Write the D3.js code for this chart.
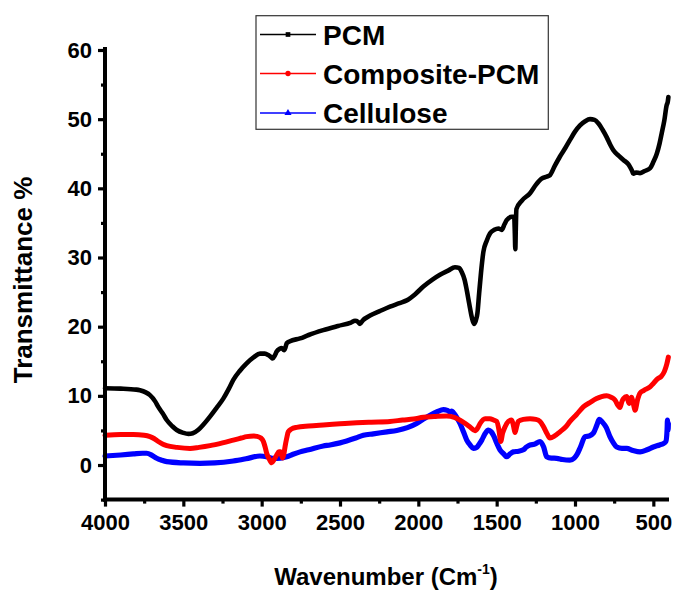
<!DOCTYPE html>
<html><head><meta charset="utf-8">
<script src="https://cdn.jsdelivr.net/npm/d3@7/dist/d3.min.js"></script>
<style>body{margin:0;background:#fff}svg{display:block}text{font-family:"Liberation Sans",Arial,sans-serif;font-weight:bold}</style>
</head><body><svg id="c" width="673" height="590"></svg>
<script>
const seriesNames = ["PCM", "Composite-PCM", "Cellulose"];
const seriesColors = ["#000000", "#ff0000", "#0000ff"];
const xTicks = [4000, 3500, 3000, 2500, 2000, 1500, 1000, 500];
const yTicks = [0, 10, 20, 30, 40, 50, 60];

const pcm = [[4000,11.1],[3900,11.05],[3800,10.9],[3777,10.8],[3740,10.5],[3713,10.1],[3680,9.2],[3660,8.4],[3630,7.4],[3606,6.5],[3570,5.6],[3542,5.06],[3500,4.65],[3468,4.5],[3440,4.6],[3404,5.1],[3370,5.9],[3330,7.0],[3290,8.2],[3245,9.6],[3210,11.0],[3181,12.3],[3140,13.6],[3096,14.7],[3050,15.6],[3011,16.1],[2980,16.1],[2958,15.9],[2940,15.6],[2930,15.4],[2915,15.9],[2904,16.4],[2885,16.8],[2872,16.9],[2857,16.6],[2848,17.0],[2840,17.6],[2819,17.9],[2755,18.3],[2700,18.8],[2607,19.5],[2513,20.1],[2430,20.6],[2404,20.85],[2385,20.7],[2372,20.4],[2355,20.9],[2308,21.6],[2250,22.2],[2181,22.9],[2120,23.4],[2074,23.8],[2020,24.7],[1968,25.8],[1910,26.8],[1862,27.5],[1810,28.1],[1766,28.6],[1740,28.5],[1723,27.9],[1705,26.8],[1691,25.3],[1675,23.3],[1659,21.4],[1645,20.4],[1633,20.9],[1623,21.9],[1612,24.8],[1600,27.8],[1585,30.8],[1564,32.4],[1542,33.5],[1515,34.0],[1489,34.2],[1468,34.0],[1450,34.8],[1436,35.4],[1404,35.9],[1388,35.9],[1384,33.5],[1381,31.2],[1378,34],[1374,37.0],[1340,38.2],[1287,39.3],[1250,40.5],[1213,41.4],[1180,41.7],[1160,41.9],[1130,43.2],[1096,44.6],[1060,45.9],[1032,47.0],[1000,48.2],[968,49.1],[935,49.7],[904,50.0],[875,49.9],[851,49.4],[825,48.5],[798,47.4],[775,46.3],[755,45.5],[720,44.7],[691,44.1],[660,43.5],[649,43.1],[635,42.5],[628,42.1],[610,42.3],[585,42.2],[555,42.5],[521,42.9],[500,43.8],[478,45.0],[460,46.5],[447,47.9],[430,49.8],[415,52.0],[408,52.5],[404,53.2]];

const composite = [[4000,4.3],[3900,4.4],[3819,4.4],[3750,4.3],[3713,4.1],[3685,3.8],[3660,3.4],[3630,3.0],[3606,2.8],[3540,2.55],[3457,2.4],[3400,2.55],[3330,2.8],[3250,3.2],[3181,3.6],[3130,3.9],[3096,4.1],[3050,4.2],[3032,4.15],[3005,3.9],[2989,3.4],[2978,2.6],[2968,1.7],[2950,0.8],[2936,0.33],[2920,0.8],[2904,1.45],[2890,1.9],[2880,1.9],[2870,1.2],[2866,1.0],[2858,1.6],[2851,2.6],[2840,3.9],[2830,4.8],[2810,5.2],[2777,5.45],[2700,5.65],[2607,5.8],[2500,5.95],[2394,6.1],[2300,6.2],[2181,6.3],[2100,6.5],[2030,6.65],[1968,6.9],[1900,7.0],[1819,7.1],[1770,6.9],[1734,6.5],[1700,6.0],[1670,5.5],[1638,4.96],[1620,5.4],[1606,6.0],[1574,6.7],[1543,6.7],[1520,6.5],[1500,6.3],[1485,5.0],[1474,3.4],[1462,4.6],[1447,5.5],[1425,6.3],[1404,6.5],[1392,5.6],[1383,4.7],[1372,5.6],[1362,6.3],[1330,6.6],[1287,6.7],[1250,6.6],[1223,6.3],[1200,5.5],[1180,4.6],[1160,3.9],[1130,4.2],[1096,4.8],[1060,5.5],[1032,6.3],[990,7.3],[947,8.4],[900,9.1],[862,9.6],[830,9.9],[798,10.0],[770,9.8],[745,9.4],[725,8.6],[713,8.3],[700,9.2],[690,9.6],[670,9.9],[655,8.9],[640,9.8],[625,8.6],[617,7.9],[600,9.5],[585,10.4],[560,10.8],[521,11.3],[500,11.8],[470,12.5],[450,12.8],[430,13.5],[415,14.5],[404,15.6]];

const cellulose = [[4000,1.3],[3900,1.45],[3819,1.6],[3760,1.7],[3734,1.7],[3700,1.4],[3670,0.97],[3640,0.7],[3606,0.48],[3500,0.3],[3394,0.24],[3300,0.3],[3181,0.58],[3100,0.9],[3011,1.3],[2960,1.15],[2926,0.97],[2880,1.0],[2840,1.2],[2800,1.55],[2755,1.9],[2700,2.2],[2607,2.75],[2564,2.9],[2500,3.2],[2400,3.9],[2351,4.3],[2287,4.5],[2200,4.8],[2138,5.0],[2070,5.4],[2011,6.0],[1970,6.6],[1925,7.2],[1880,7.7],[1840,8.0],[1815,7.9],[1798,7.7],[1787,7.8],[1777,7.6],[1755,6.9],[1734,6.0],[1712,4.8],[1691,3.6],[1670,2.9],[1649,2.4],[1630,2.5],[1612,3.0],[1595,3.6],[1575,4.5],[1553,5.06],[1535,4.8],[1521,4.3],[1500,3.2],[1479,2.2],[1455,1.6],[1436,1.2],[1415,1.6],[1394,1.9],[1360,2.0],[1330,2.2],[1310,2.6],[1287,2.9],[1260,3.0],[1223,3.4],[1200,2.6],[1181,1.2],[1150,1.0],[1117,0.97],[1080,0.8],[1032,0.72],[1005,1.0],[989,1.45],[965,2.6],[936,4.1],[910,4.2],[883,4.6],[860,5.8],[845,6.6],[825,6.2],[800,5.4],[777,4.1],[755,3.2],[734,2.6],[700,2.4],[670,2.4],[630,2.1],[585,1.9],[540,2.2],[500,2.6],[460,2.9],[436,3.1],[420,3.4],[412,5.2],[410,6.5],[406,5.0],[404,6.0]];

const allSeries = [pcm, composite, cellulose];

const svg = d3.select("#c");
const x = d3.scaleLinear().domain([4000, 400]).range([105, 669]);
const y = d3.scaleLinear().domain([-5, 60]).range([499.6, 50]);

// curves
const line = d3.line().x(d => x(d[0])).y(d => y(d[1])).curve(d3.curveMonotoneX);
const widths = [4.6, 5, 5.2];
[2, 1, 0].forEach(i => {
  svg.append("path").datum(allSeries[i]).attr("d", line)
    .attr("fill", "none").attr("stroke", seriesColors[i])
    .attr("stroke-width", widths[i]).attr("stroke-linejoin", "round").attr("stroke-linecap", "round");
});

// axes
const xAxis = svg.append("g").attr("transform", "translate(0,499.6)")
  .call(d3.axisBottom(x).tickValues(xTicks).tickSize(7).tickPadding(8).tickFormat(d3.format("d")));
const xMinor = svg.append("g").attr("transform", "translate(0,499.6)")
  .call(d3.axisBottom(x).tickValues(d3.range(3750, 400, -500)).tickSize(4).tickFormat(""));
const yAxis = svg.append("g").attr("transform", "translate(105,0)")
  .call(d3.axisLeft(y).tickValues(yTicks).tickSize(7).tickPadding(6).tickFormat(d3.format("d")));
const yMinor = svg.append("g").attr("transform", "translate(105,0)")
  .call(d3.axisLeft(y).tickValues([-5,5,15,25,35,45,55]).tickSize(4).tickFormat(""));
[xAxis, xMinor, yAxis, yMinor].forEach(g => {
  g.select(".domain").attr("stroke", "#000").attr("stroke-width", 4)
  g.selectAll(".tick line").attr("stroke", "#000").attr("stroke-width", 3.2);
  g.selectAll(".tick text").attr("fill", "#000").style("font-size", "22px");
});
xMinor.select(".domain").remove();
yMinor.select(".domain").remove();
yAxis.select(".domain").attr("d", "M0,47V501.6");
xAxis.select(".domain").attr("d", "M103,0H669");

// axis titles
svg.append("text").attr("transform", "translate(32,280) rotate(-90)")
  .attr("text-anchor", "middle").style("font-size", "26px").text("Transmittance %");
const xt = svg.append("text").attr("x", 386).attr("y", 585).attr("text-anchor", "middle").style("font-size", "24px");
xt.append("tspan").text("Wavenumber (Cm");
xt.append("tspan").attr("dy", -11).style("font-size", "14px").text("-1");
xt.append("tspan").attr("dy", 11).text(")");

// legend
const lg = svg.append("g");
lg.append("rect").attr("x", 256).attr("y", 15.7).attr("width", 292.3).attr("height", 113.6)
  .attr("fill", "#fff").attr("stroke", "#333").attr("stroke-width", 1.2);
const ly = [34.5, 73.5, 113];
seriesNames.forEach((n, i) => {
  lg.append("line").attr("x1", 260).attr("x2", 316).attr("y1", ly[i]).attr("y2", ly[i])
    .attr("stroke", seriesColors[i]).attr("stroke-width", 1.5);
  const sym = [d3.symbolSquare, d3.symbolCircle, d3.symbolTriangle][i];
  lg.append("path").attr("d", d3.symbol().type(sym).size(22)())
    .attr("transform", `translate(288,${ly[i]})`).attr("fill", seriesColors[i]);
  lg.append("text").attr("x", 323).attr("y", ly[i] + 10).style("font-size", "28px").text(n);
});
</script></body></html>
